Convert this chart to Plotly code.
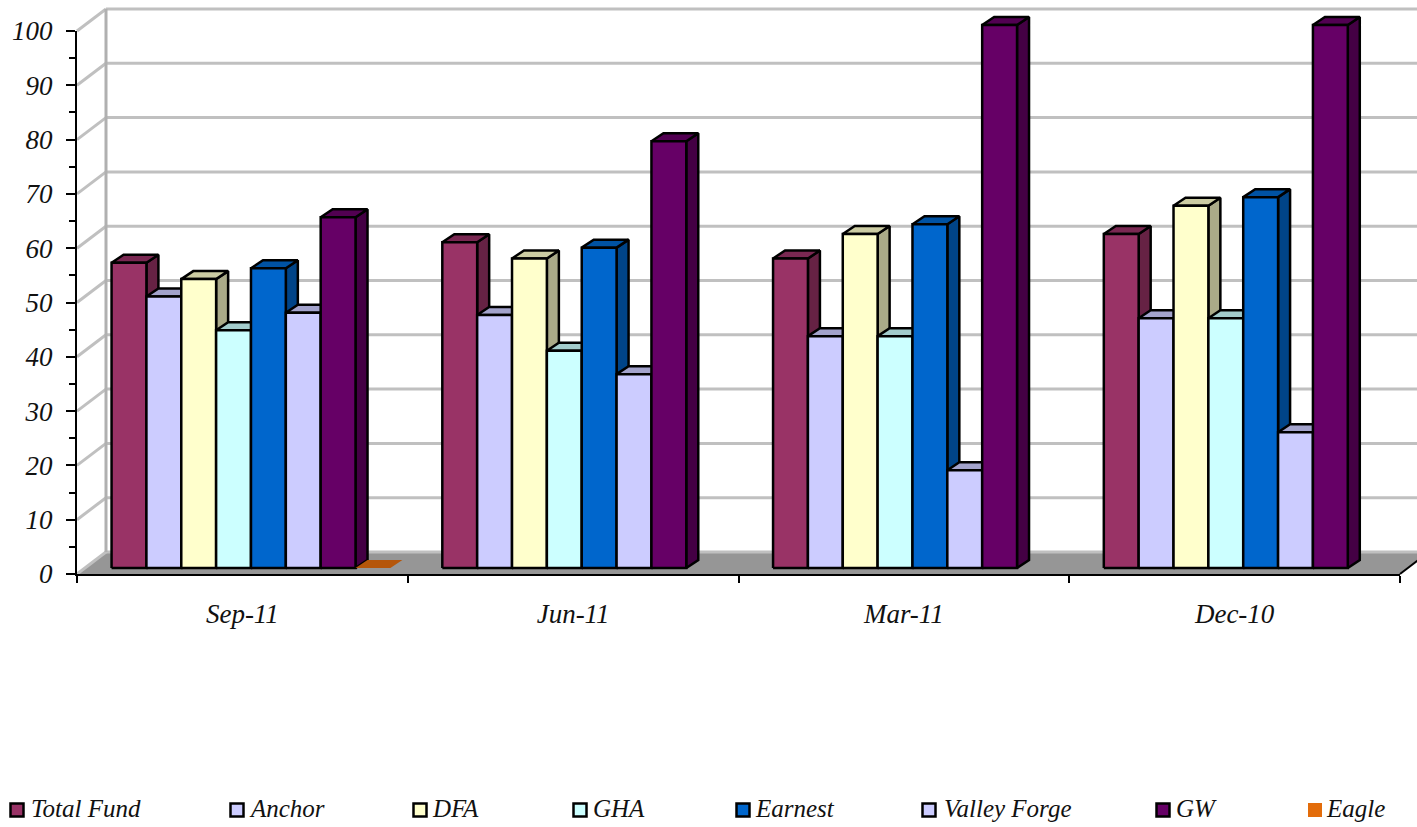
import plotly.graph_objects as go

# ---- data ----
periods = ["Sep-11", "Jun-11", "Mar-11", "Dec-10"]
total_fund = [56.2, 60.0, 57.0, 61.5]
anchor = [50.0, 46.6, 42.7, 46.0]
dfa = [53.2, 57.0, 61.5, 66.7]
gha = [43.8, 40.0, 42.7, 46.0]
earnest = [55.2, 59.0, 63.3, 68.3]
valley_forge = [47.0, 35.7, 18.0, 25.0]
gw = [64.6, 78.6, 100.0, 100.0]
eagle = [0.0, None, None, None]
series_names = ["Total Fund", "Anchor", "DFA", "GHA", "Earnest", "Valley Forge", "GW", "Eagle"]
series_values = [total_fund, anchor, dfa, gha, earnest, valley_forge, gw, eagle]
y_ticks = list(range(0, 101, 10))

# ---- styles / layout constants ----
W, H = 1417, 827
FRONT = "#993366 #CCCCFF #FFFFCC #CCFFFF #0066CC #CCCCFF #660066 #E36C0A".split()
TOP = "#7A2852 #A3A3CC #CCCCA3 #A3CCCC #0052A3 #A3A3CC #520052 #B5560A".split()
SIDE = "#662244 #8888AA #AAAA88 #88AAAA #004488 #8888AA #440044 #974807".split()
SWATCH_PX = [17, 237, 420, 580, 743, 929, 1163, 1315]
LABEL_PX = [31, 251, 433, 593, 756, 944, 1176, 1327]
FONT = "Liberation Serif"

PX_L, PX_R, PX_0, PX_100 = 77, 1400, 574, 31
ux = (PX_R - PX_L) / 4  # px per category
uy = (PX_0 - PX_100) / 100  # px per value unit


def dx(px):
    return px / ux


def dy(px):
    return px / uy


WALL_X, WALL_Y = dx(29), dy(22)  # back wall offset
BASE_X, BASE_Y = dx(8.6), dy(6)  # where the bars stand on the floor
DEPTH_X, DEPTH_Y = dx(12), dy(8)  # bar depth
GAP = 0.157
BAR_W = (1 - GAP) / len(series_names)

fig = go.Figure()


def poly(x, y, fill, line=None, width=0, mode="lines"):
    fig.add_trace(go.Scatter(
        x=x, y=y, mode=mode, fill="toself" if fill else None, fillcolor=fill,
        line=dict(color=line or "rgba(0,0,0,0)", width=width), showlegend=False, hoverinfo="skip",
    ))


n = len(periods)
# floor
poly([0, WALL_X, n + WALL_X, n, 0], [0, WALL_Y, WALL_Y, 0, 0], "#969696")
# back wall gridlines and side-wall diagonals
gx, gy, ax, ay = [], [], [], []
for t in y_ticks:
    gx += [WALL_X, n + WALL_X, None]
    gy += [t + WALL_Y, t + WALL_Y, None]
    ax += [0, WALL_X, None]
    ay += [t, t + WALL_Y, None]
poly(gx, gy, None, "#C0C0C0", 3)
poly(ax, ay, None, "#C0C0C0", 3)
poly([WALL_X, WALL_X], [0 + WALL_Y, 100 + WALL_Y], None, "#B0B0B0", 3)
poly([n, n + WALL_X], [0, WALL_Y], None, "#000000", 2)

# bars: one polygon per face, painted series by series
for s, (name, vals) in enumerate(zip(series_names, series_values)):
    fx, fy, tx, ty, sx, sy = [], [], [], [], [], []
    for c, v in enumerate(vals):
        if v is None:
            continue
        l = c + GAP / 2 + BASE_X + s * BAR_W
        r = l + BAR_W
        b = BASE_Y
        t = BASE_Y + v
        fx += [l, r, r, l, l, None]
        fy += [b, b, t, t, b, None]
        tx += [l, r, r + DEPTH_X, l + DEPTH_X, l, None]
        ty += [t, t, t + DEPTH_Y, t + DEPTH_Y, t, None]
        sx += [r, r + DEPTH_X, r + DEPTH_X, r, r, None]
        sy += [b, b + DEPTH_Y, t + DEPTH_Y, t, b, None]
    edge = "rgba(0,0,0,0)" if name == "Eagle" else "#000000"
    w = 0 if name == "Eagle" else 2.5
    if name != "Eagle":
        poly(sx, sy, SIDE[s], edge, w)
    poly(tx, ty, TOP[s], edge, w)
    if name != "Eagle":
        poly(fx, fy, FRONT[s], edge, w)

# legend row: swatch and label
LEGEND_V = (PX_0 - 810) / uy
for s, name in enumerate(series_names):
    fig.add_trace(go.Scatter(
        x=[(SWATCH_PX[s] - PX_L) / ux], y=[LEGEND_V], mode="markers", name=name,
        showlegend=False, hoverinfo="skip",
        marker=dict(symbol="square", size=14 if name == "Eagle" else 13, color=FRONT[s],
                    line=dict(color="#000000", width=0 if name == "Eagle" else 2.5)),
    ))
    fig.add_trace(go.Scatter(
        x=[(LABEL_PX[s] - PX_L) / ux], y=[LEGEND_V + dy(-1)], mode="text", text=[name],
        textposition="middle right", showlegend=False, hoverinfo="skip",
        textfont=dict(family=FONT, size=25, style="italic", color="#111111"),
    ))

# real axes carry the ticks and labels
fig.add_trace(go.Scatter(x=[0], y=[None], xaxis="x2", yaxis="y2", showlegend=False, hoverinfo="skip"))

fig.update_layout(
    width=W, height=H, autosize=False, margin=dict(l=0, r=0, t=0, b=0, pad=0, autoexpand=False),
    paper_bgcolor="white", plot_bgcolor="rgba(0,0,0,0)", showlegend=False,
    font=dict(family=FONT, size=27, color="#111111"),
    xaxis=dict(domain=[0, 1], range=[-PX_L / ux, (W - PX_L) / ux], visible=False, fixedrange=True, automargin=False),
    yaxis=dict(domain=[0, 1], range=[(PX_0 - H) / uy, PX_0 / uy], visible=False, fixedrange=True, automargin=False),
    xaxis2=dict(
        domain=[PX_L / W, PX_R / W], range=[0, n], anchor="y2", showgrid=False, zeroline=False,
        showline=True, linecolor="#000000", linewidth=2, automargin=False,
        tickmode="array", tickvals=[c + 0.5 for c in range(n)], ticktext=periods,
        ticks="outside", ticklen=15, tickcolor="rgba(0,0,0,0)",
        tickfont=dict(family=FONT, size=27, style="italic", color="#111111"),
        minor=dict(tickmode="array", tickvals=list(range(n + 1)), ticks="outside", ticklen=7,
                   tickcolor="#000000", tickwidth=1.5, showgrid=False),
    ),
    yaxis2=dict(
        domain=[(H - PX_0) / H, (H - PX_100) / H], range=[0, 100], anchor="x2", showgrid=False, zeroline=False,
        showline=True, linecolor="#000000", linewidth=2, automargin=False,
        tickmode="array", tickvals=y_ticks, ticks="outside", ticklen=9, tickcolor="#000000", tickwidth=1.5,
        ticklabelstandoff=8,
        tickfont=dict(family=FONT, size=27, style="italic", color="#111111"),
        minor=dict(tickmode="array", tickvals=[t + 5 for t in y_ticks[:-1]], ticks="outside", ticklen=6,
                   tickcolor="#000000", tickwidth=1.5, showgrid=False),
    ),
)

fig.write_html("out.html", config={"displayModeBar": False},
               post_script="document.body.style.margin='0';")
